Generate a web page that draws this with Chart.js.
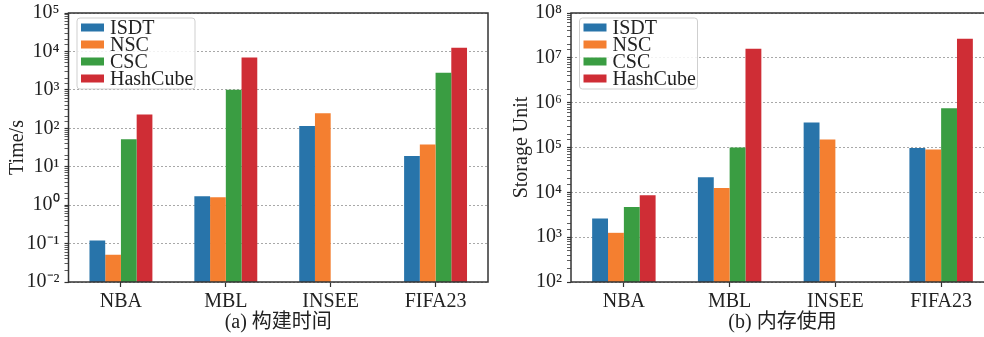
<!DOCTYPE html>
<html>
<head>
<meta charset="utf-8">
<script src="https://cdn.jsdelivr.net/npm/chart.js@4.4.1/dist/chart.umd.min.js"></script>
<style>
  html, body { margin: 0; padding: 0; background: #fff; overflow: hidden; width: 984px; height: 337px; }
  .panel { position: absolute; top: 0; }
</style>
</head>
<body>
<div class="panel" style="left:0px"><canvas id="chart-time" width="491" height="337"></canvas></div>
<div class="panel" style="left:495px"><canvas id="chart-storage" width="502" height="337"></canvas></div>
<script>
// data
const categories = ['NBA', 'MBL', 'INSEE', 'FIFA23'];
const seriesNames = ['ISDT', 'NSC', 'CSC', 'HashCube'];
const seriesColors = ['#2874aa', '#f47f30', '#3a9d42', '#cf2d35'];

// (a) build time, seconds
const timeISDT = [0.12, 1.7, 115, 19];
const timeNSC = [0.051, 1.6, 245, 38];
const timeCSC = [52, 1000, null, 2800];
const timeHashCube = [230, 7000, null, 12500];
const timeRange = [1e-2, 1e5];

// (b) memory usage, storage units
const storageISDT = [2600, 21700, 360000, 98000];
const storageNSC = [1250, 12500, 150000, 90000];
const storageCSC = [4700, 100000, null, 750000];
const storageHashCube = [8600, 16000000, null, 26500000];
const storageRange = [1e2, 1e8];

const FONT = "'Liberation Serif', 'Times New Roman', 'Noto Sans CJK SC', serif";
const TEXT = '#222';
const SUP = {'-': '\u207B', '0': '\u2070', '1': '\u00B9', '2': '\u00B2', '3': '\u00B3', '4': '\u2074',
             '5': '\u2075', '6': '\u2076', '7': '\u2077', '8': '\u2078', '9': '\u2079'};

function isDecade(v) {
    const l = Math.log10(v);
    return Math.abs(l - Math.round(l)) < 1e-6;
}
function decadeLabel(v) {
    if (!isDecade(v)) return '';
    const e = String(Math.round(Math.log10(v)));
    return '10' + e.split('').map(c => SUP[c]).join('');
}

// axes frame on all four sides
const frame = {
    id: 'frame',
    afterDatasetsDraw(chart) {
        const {ctx, chartArea: a} = chart;
        ctx.save();
        ctx.strokeStyle = '#333';
        ctx.lineWidth = 1.5;
        ctx.strokeRect(a.left, a.top, a.right - a.left, a.bottom - a.top);
        ctx.restore();
    }
};

// matplotlib-style legend box in the upper left corner
const boxLegend = {
    id: 'boxLegend',
    afterDraw(chart) {
        const {ctx, chartArea} = chart;
        const x0 = chartArea.left + 8.5, y0 = chartArea.top + 5;
        ctx.save();
        ctx.beginPath();
        ctx.roundRect(x0, y0, 118, 71, 3);
        ctx.fillStyle = 'rgba(255,255,255,0.85)';
        ctx.fill();
        ctx.strokeStyle = '#cfcfcf';
        ctx.lineWidth = 1;
        ctx.stroke();
        ctx.font = '20px ' + FONT;
        ctx.textBaseline = 'middle';
        chart.data.datasets.forEach((ds, i) => {
            const cy = y0 + 9.5 + i * 17;
            ctx.fillStyle = ds.backgroundColor;
            ctx.fillRect(x0 + 4, cy - 4, 23, 8);
            ctx.fillStyle = TEXT;
            ctx.fillText(ds.label, x0 + 33, cy + 1);
        });
        ctx.restore();
    }
};

function makeChart(id, series, range, yTitle, caption, yWidth, yTitlePad) {
    const ctx = document.getElementById(id);
    return new Chart(ctx, {
        type: 'bar',
        data: {
            labels: categories,
            datasets: series.map((vals, i) => ({
                label: seriesNames[i],
                data: vals,
                backgroundColor: seriesColors[i],
                borderWidth: 0,
                categoryPercentage: 0.6,
                barPercentage: 1.0
            }))
        },
        options: {
            responsive: false,
            animation: false,
            layout: { padding: { top: 13, right: 3, left: 0, bottom: 0 } },
            plugins: { legend: { display: false }, tooltip: { enabled: false } },
            scales: {
                x: {
                    grid: { offset: false, drawOnChartArea: false, drawTicks: true, tickLength: 5, tickColor: '#333', tickWidth: 1.2 },
                    border: { display: false },
                    ticks: { color: TEXT, font: { family: FONT, size: 20 }, padding: 3, maxRotation: 0 },
                    title: { display: true, text: caption, color: TEXT, font: { family: FONT, size: 20 }, padding: { top: 0, bottom: 2 } },
                    afterFit(scale) { scale.height = 55; }
                },
                y: {
                    type: 'logarithmic',
                    min: range[0],
                    max: range[1],
                    grid: {
                        color: c => isDecade(c.tick.value) ? '#a8a8a8' : 'rgba(0,0,0,0)',
                        lineWidth: 1,
                        tickLength: 4,
                        tickColor: '#333',
                        tickWidth: c => isDecade(c.tick.value) ? 1.2 : 0.8,
                        tickBorderDash: []
                    },
                    border: { display: false, dash: [2, 2] },
                    ticks: {
                        autoSkip: false,
                        color: TEXT,
                        font: { family: FONT, size: 20 },
                        padding: 5,
                        callback: v => decadeLabel(v)
                    },
                    title: { display: true, text: yTitle, color: TEXT, font: { family: FONT, size: 20 }, padding: { top: yTitlePad, bottom: 0 } },
                    afterFit(scale) {
                        scale.width = yWidth;
                        scale.paddingTop = 0;
                        scale.paddingBottom = 0;
                    }
                }
            }
        },
        plugins: [frame, boxLegend]
    });
}

makeChart('chart-time', [timeISDT, timeNSC, timeCSC, timeHashCube], timeRange,
          'Time/s', '(a) 构建时间', 68.5, 6);
makeChart('chart-storage', [storageISDT, storageNSC, storageCSC, storageHashCube], storageRange,
          'Storage Unit', '(b) 内存使用', 76, 15);
</script>
</body>
</html>
